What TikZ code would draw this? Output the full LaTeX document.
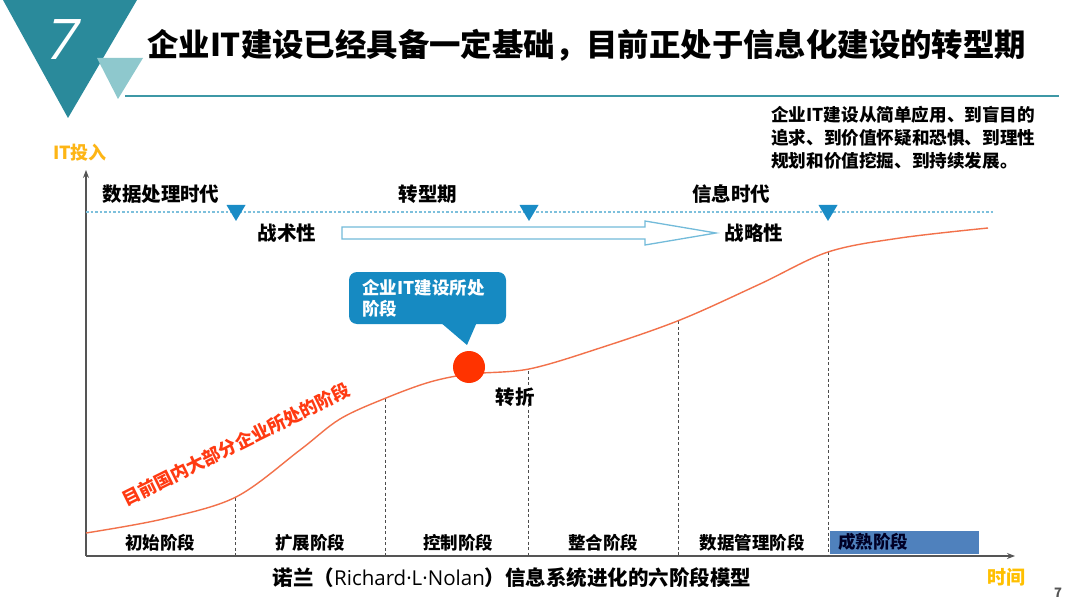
\documentclass[tikz,border=0pt]{standalone}
\usepackage{fontspec}
\setmainfont{Noto Sans CJK SC}
\newfontfamily\latinf{Open Sans}
\usetikzlibrary{arrows.meta}
\definecolor{teal1}{HTML}{2A8A9B}
\definecolor{teal2}{HTML}{8EC8CD}
\definecolor{tline}{HTML}{3E98A6}
\definecolor{mblue}{HTML}{1A8CC6}
\definecolor{cblue}{HTML}{168AC2}
\definecolor{dblue}{HTML}{7DC0DC}
\definecolor{curvec}{HTML}{F2714A}
\definecolor{dotred}{HTML}{FF3300}
\definecolor{redtxt}{HTML}{FF3A12}
\definecolor{amber}{HTML}{FDB515}
\definecolor{gold}{HTML}{FFC000}
\definecolor{matbox}{HTML}{4F81BD}
\definecolor{axisc}{HTML}{555555}
\tikzset{
  lbl/.style={inner sep=0pt, font=\fontsize{19.5}{22}\selectfont\bfseries},
  stagelbl/.style={inner sep=0pt, font=\fontsize{17.5}{20}\selectfont\bfseries},
  marker/.style={fill=mblue, draw=none},
  vdash/.style={draw=axisc!90!black, line width=0.9pt, dash pattern=on 3pt off 2.5pt},
  axis/.style={draw=axisc, line width=1.3pt, -{Stealth[length=8pt,width=6pt]}}
}
\begin{document}
\begin{tikzpicture}[x=1pt,y=-1pt]
\useasboundingbox (0,0) rectangle (1080,607);
\fill[white] (0,0) rectangle (1080,607);
% header
\fill[teal1] (3,0) -- (137,0) -- (68,118) -- cycle;
\fill[teal2] (97,58) -- (143,58) -- (118,99) -- cycle;
\node[xslant=0.22, text=white, inner sep=0pt, font=\latinf\fontsize{56}{56}\selectfont] (seven) at (64,40) {7};
\coordinate (hl1) at (125,96);
\coordinate (hl2) at (1059,96);
\draw[tline, line width=1.6pt] (hl1) -- (hl2);
\node[anchor=west, inner sep=0pt, font=\fontsize{31.4}{34}\selectfont\bfseries] (title) at (147,45) {企业IT建设已经具备一定基础，目前正处于信息化建设的转型期};
% note
\node[anchor=north west, inner sep=0pt, align=left, font=\fontsize{17.6}{23}\selectfont\bfseries] (note) at (771,106) {企业IT建设从简单应用、到盲目的\\追求、到价值怀疑和恐惧、到理性\\规划和价值挖掘、到持续发展。};
% axes
\coordinate (origin) at (86,556);
\coordinate (ytop) at (86,170);
\coordinate (xend) at (1015,556);
\draw[axis] (origin) -- (ytop);
\draw[axis] (origin) -- (xend);
\node[inner sep=0pt, text=amber, font=\fontsize{18}{20}\selectfont\bfseries] (ylab) at (80,153) {IT投入};
\node[inner sep=0pt, text=gold, font=\fontsize{19}{20}\selectfont\bfseries] (xlab) at (1006,577) {时间};
\node[inner sep=0pt, text=axisc, font=\fontsize{13}{14}\selectfont\bfseries] (pgno) at (1058,593) {7};
% dashed blue line
\coordinate (dl1) at (86,212);
\coordinate (dl2) at (993,212);
\draw[dblue, line width=1.1pt, dash pattern=on 2.5pt off 2pt] (dl1) -- (dl2);
\foreach \xx in {236,529,828}{
  \fill[marker] (\xx-9.5,205) -- (\xx+9.5,205) -- (\xx,221) -- cycle;
}
\node[lbl] (era1) at (161,194) {数据处理时代};
\node[lbl] (era2) at (428,194) {转型期};
\node[lbl] (era3) at (731,194) {信息时代};
\node[lbl] (tac) at (287,233) {战术性};
\node[lbl] (str) at (754,233) {战略性};
% hollow arrow
\draw[dblue!90!mblue, line width=1.3pt, fill=white] (342,227) -- (645,227) -- (645,221) -- (716,233) -- (645,245) -- (645,239) -- (342,239) -- cycle;
% vertical dashed lines
\foreach \xx/\yy in {235/498,385/399,528/371,678/321,828/252}{
  \draw[vdash] (\xx,\yy) -- (\xx,555);
}
% curve
\draw[curvec, line width=1.4pt] plot[smooth, tension=0.55] coordinates {(86,533) (163,519) (236,497) (300,450) (340,419) (386,398) (430,382) (470,374) (529,369) (600,348) (680,320) (760,284) (828,252) (900,238) (988,228)};
% stage labels
\node[stagelbl] (s1) at (160,543) {初始阶段};
\node[stagelbl] (s2) at (310,543) {扩展阶段};
\node[stagelbl] (s3) at (458,543) {控制阶段};
\node[stagelbl] (s4) at (603,543) {整合阶段};
\node[stagelbl] (s5) at (752,543) {数据管理阶段};
\fill[matbox] (830,531) rectangle (979,554);
\node[stagelbl, anchor=west, text=black!85!blue] (s6) at (838,542) {成熟阶段};
% caption
\node[inner sep=0pt, font=\fontsize{20.5}{22}\selectfont\bfseries] (cap) at (512,578) {诺兰（{\latinf\mdseries Richard·L·Nolan}）信息系统进化的六阶段模型};
% callout
\fill[cblue, rounded corners=8pt] (349,272) rectangle (506,324);
\fill[cblue] (440,322) -- (477,322) -- (467,345) -- cycle;
\node[anchor=north west, inner sep=0pt, align=left, text=white, font=\fontsize{17.5}{21}\selectfont\bfseries] (callt) at (362,279) {企业IT建设所处\\阶段};
\node[circle, fill=dotred, minimum size=32pt, inner sep=0pt] (dot) at (469,367) {};
\node[lbl] (turn) at (515,397) {转折};
% rotated red text
\node[inner sep=0pt, rotate=26.4, text=redtxt, font=\fontsize{18}{20}\selectfont\bfseries] (most) at (236,444) {目前国内大部分企业所处的阶段};
\end{tikzpicture}
\end{document}
